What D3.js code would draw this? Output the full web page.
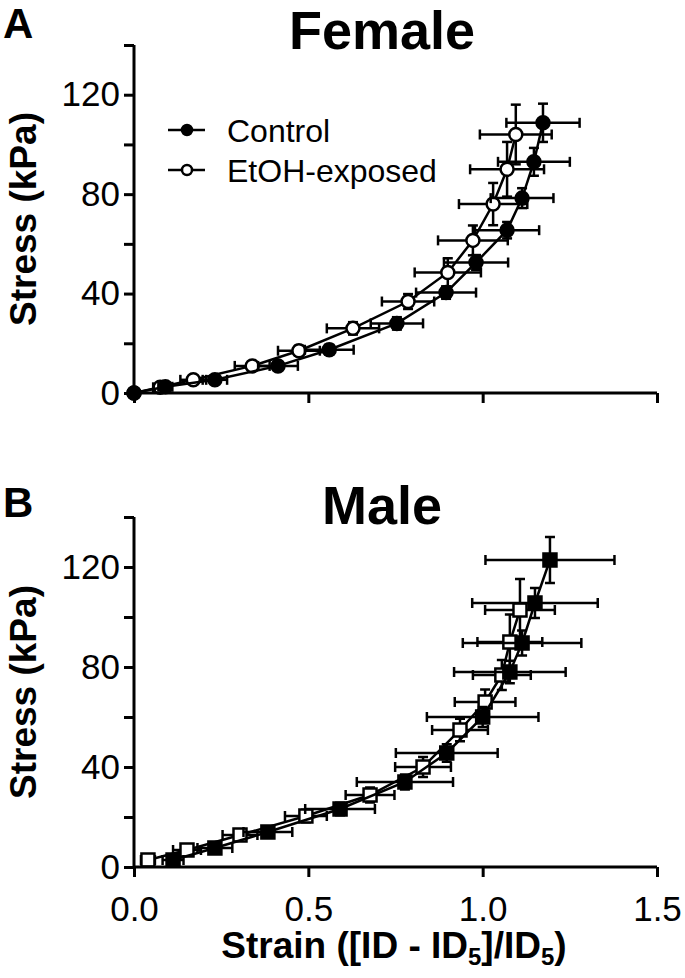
<!DOCTYPE html>
<html><head><meta charset="utf-8">
<script src="https://cdn.jsdelivr.net/npm/d3@7"></script>
<style>
html,body{margin:0;padding:0;background:#fff;}
svg{display:block;}
text{font-family:"Liberation Sans",Arial,Helvetica,sans-serif;fill:#000;}
</style></head>
<body>
<svg id="chart" width="685" height="978"></svg>
<script>
// ---------- data ----------
const yTicks = [0, 20, 40, 60, 80, 100, 120, 140];
const yTickLabels = [0, 40, 80, 120];
const xTicks = [0, 0.5, 1.0, 1.5];
const seriesNames = ["Control", "EtOH-exposed"];

// Female
const femaleStrainCtrl = [0, 0.09, 0.232, 0.413, 0.56, 0.754, 0.895, 0.981, 1.07, 1.113, 1.147, 1.173];
const femaleStressCtrl = [0, 2.5, 5.3, 10.9, 17.4, 28, 40.4, 52.5, 65.5, 78.4, 93, 108.7];
const femaleStrainErrCtrl = [0, 0.02, 0.035, 0.057, 0.07, 0.075, 0.086, 0.092, 0.092, 0.09, 0.103, 0.105];
const femaleStressErrCtrl = [0, 0.5, 1, 1.5, 2, 2.5, 2.5, 3, 3.3, 4, 5.6, 7.7];

const femaleStrainEtoh = [0, 0.075, 0.17, 0.339, 0.473, 0.628, 0.786, 0.90, 0.972, 1.03, 1.07, 1.095];
const femaleStressEtoh = [0, 2.3, 5.3, 10.9, 17, 26, 36.8, 48.5, 61.4, 76, 90, 104];
const femaleStrainErrEtoh = [0, 0.02, 0.037, 0.05, 0.06, 0.075, 0.075, 0.095, 0.1, 0.098, 0.106, 0.103];
const femaleStressErrEtoh = [0, 0.5, 1, 1.5, 2, 2.5, 3, 5.7, 6, 8.5, 11, 12];

// Male
const maleStrainCtrl = [0.112, 0.232, 0.384, 0.591, 0.777, 0.897, 1.0, 1.078, 1.113, 1.15, 1.193];
const maleStressCtrl = [2.8, 7.6, 14, 23.2, 34, 45.6, 60, 78, 89.6, 105.6, 122.8];
const maleStrainErrCtrl = [0.03, 0.05, 0.07, 0.1, 0.138, 0.146, 0.16, 0.16, 0.17, 0.18, 0.185];
const maleStressErrCtrl = [1, 1.5, 2, 2.5, 3, 3.5, 4, 4.5, 5, 6, 9.2];

const maleStrainEtoh = [0.04, 0.152, 0.304, 0.493, 0.677, 0.829, 0.935, 1.007, 1.055, 1.078, 1.107];
const maleStressEtoh = [2.8, 6.8, 12.8, 20.4, 28.8, 40, 54.8, 66, 76.8, 90, 102.8];
const maleStrainErrEtoh = [0.02, 0.04, 0.05, 0.06, 0.07, 0.08, 0.08, 0.087, 0.083, 0.093, 0.1];
const maleStressErrEtoh = [1, 1.5, 2, 2.5, 3, 4, 4.5, 5, 6, 11, 12.4];

// ---------- drawing ----------
const svg = d3.select("#chart");
const FONT_TICK = 35, FONT_LABEL = 37;

function zip(xs, ys, xe, ye) {
  return xs.map((x, i) => ({x: x, y: ys[i], xe: xe[i], ye: ye[i]}));
}

function panel(opts) {
  const x = d3.scaleLinear().domain([0, 1.5]).range([134, 657]);
  const y = d3.scaleLinear().domain([0, 140]).range(opts.yRange);
  const g = svg.append("g");

  const line = d3.line().x(d => x(d.x)).y(d => y(d.y));
  opts.series.forEach(s => {
    const sg = g.append("g");
    sg.append("path").datum(s.data).attr("d", line)
      .attr("fill", "none").attr("stroke", "#000").attr("stroke-width", 2.5);
    const eb = sg.append("g").attr("stroke", "#000").attr("stroke-width", 2.5).attr("fill", "none");
    s.data.forEach(d => {
      if (d.xe > 0) {
        eb.append("line").attr("x1", x(d.x - d.xe)).attr("x2", x(d.x + d.xe)).attr("y1", y(d.y)).attr("y2", y(d.y));
        eb.append("line").attr("x1", x(d.x - d.xe)).attr("x2", x(d.x - d.xe)).attr("y1", y(d.y) - 5).attr("y2", y(d.y) + 5);
        eb.append("line").attr("x1", x(d.x + d.xe)).attr("x2", x(d.x + d.xe)).attr("y1", y(d.y) - 5).attr("y2", y(d.y) + 5);
      }
      if (d.ye > 0) {
        eb.append("line").attr("x1", x(d.x)).attr("x2", x(d.x)).attr("y1", y(d.y - d.ye)).attr("y2", y(d.y + d.ye));
        eb.append("line").attr("x1", x(d.x) - 5).attr("x2", x(d.x) + 5).attr("y1", y(d.y + d.ye)).attr("y2", y(d.y + d.ye));
        eb.append("line").attr("x1", x(d.x) - 5).attr("x2", x(d.x) + 5).attr("y1", y(d.y - d.ye)).attr("y2", y(d.y - d.ye));
      }
    });
    const fill = s.filled ? "#000" : "#fff";
    if (s.shape === "circle") {
      sg.selectAll("circle.pt").data(s.data).join("circle").attr("class", "pt")
        .attr("cx", d => x(d.x)).attr("cy", d => y(d.y)).attr("r", 6.5)
        .attr("fill", fill).attr("stroke", "#000").attr("stroke-width", 2.5);
    } else {
      sg.selectAll("rect.pt").data(s.data).join("rect").attr("class", "pt")
        .attr("x", d => x(d.x) - 6.5).attr("y", d => y(d.y) - 6.5).attr("width", 13).attr("height", 13)
        .attr("fill", fill).attr("stroke", "#000").attr("stroke-width", 2.5);
    }
  });

  const yAxis = d3.axisLeft(y).tickValues(yTicks).tickSize(10).tickPadding(4)
    .tickFormat(d => yTickLabels.includes(d) ? d3.format("d")(d) : "");
  const ya = g.append("g").attr("transform", "translate(134,0)").call(yAxis);
  const xAxis = d3.axisBottom(x).tickValues(xTicks).tickSize(10).tickPadding(19)
    .tickFormat(opts.xLabels ? d3.format(".1f") : () => "");
  const xa = g.append("g").attr("transform", `translate(0,${y(0)})`).call(xAxis);
  [ya, xa].forEach(a => {
    a.select(".domain").attr("stroke-width", 3).attr("stroke", "#000");
    a.selectAll(".tick line").attr("stroke-width", 3).attr("stroke", "#000");
    a.selectAll(".tick text").attr("font-size", FONT_TICK).attr("font-family", '"Liberation Sans",Arial,sans-serif').attr("fill", "#000");
  });
  ya.select(".domain").attr("d", `M0,${y(140)}V${y(0)}`);
  xa.select(".domain").attr("d", `M${x(0)},0H${x(1.5)}`);

  g.append("text").attr("x", 382).attr("y", opts.titleY).attr("text-anchor", "middle")
    .attr("font-size", 54).attr("font-weight", "bold").text(opts.title);
  g.append("text").attr("x", 3).attr("y", opts.letterY)
    .attr("font-size", 42).attr("font-weight", "bold").text(opts.letter);
  const cy = (y(0) + y(140)) / 2;
  g.append("text").attr("transform", `translate(36,${cy}) rotate(-90)`).attr("text-anchor", "middle")
    .attr("font-size", FONT_LABEL).attr("font-weight", "bold").text("Stress (kPa)");
  return {x, y, g};
}

const femalePanel = panel({
  yRange: [393, 45], title: "Female", titleY: 49, letter: "A", letterY: 38, xLabels: false,
  series: [
    {name: seriesNames[1], filled: false, shape: "circle", data: zip(femaleStrainEtoh, femaleStressEtoh, femaleStrainErrEtoh, femaleStressErrEtoh)},
    {name: seriesNames[0], filled: true, shape: "circle", data: zip(femaleStrainCtrl, femaleStressCtrl, femaleStrainErrCtrl, femaleStressErrCtrl)}
  ]
});

const malePanel = panel({
  yRange: [867, 517], title: "Male", titleY: 524, letter: "B", letterY: 517, xLabels: true,
  series: [
    {name: seriesNames[1], filled: false, shape: "square", data: zip(maleStrainEtoh, maleStressEtoh, maleStrainErrEtoh, maleStressErrEtoh)},
    {name: seriesNames[0], filled: true, shape: "square", data: zip(maleStrainCtrl, maleStressCtrl, maleStrainErrCtrl, maleStressErrCtrl)}
  ]
});

// legend (top panel)
const leg = svg.append("g");
const legRows = [{name: seriesNames[0], filled: true, y: 130}, {name: seriesNames[1], filled: false, y: 170}];
legRows.forEach(r => {
  leg.append("line").attr("x1", 168).attr("x2", 205).attr("y1", r.y).attr("y2", r.y)
    .attr("stroke", "#000").attr("stroke-width", 2.5);
  leg.append("circle").attr("cx", 187).attr("cy", r.y).attr("r", 5)
    .attr("fill", r.filled ? "#000" : "#fff").attr("stroke", "#000").attr("stroke-width", 2.5);
  leg.append("text").attr("x", 227).attr("y", r.y + 12).attr("font-size", 32).text(r.name);
});

// x axis label with subscripts
const xl = svg.append("text").attr("x", 394).attr("y", 958).attr("text-anchor", "middle")
  .attr("font-size", FONT_LABEL).attr("font-weight", "bold");
xl.append("tspan").text("Strain ([ID - ID");
xl.append("tspan").attr("font-size", 24).attr("dy", 7).text("5");
xl.append("tspan").attr("dy", -7).text("]/ID");
xl.append("tspan").attr("font-size", 24).attr("dy", 7).text("5");
xl.append("tspan").attr("dy", -7).text(")");
</script>
</body></html>
